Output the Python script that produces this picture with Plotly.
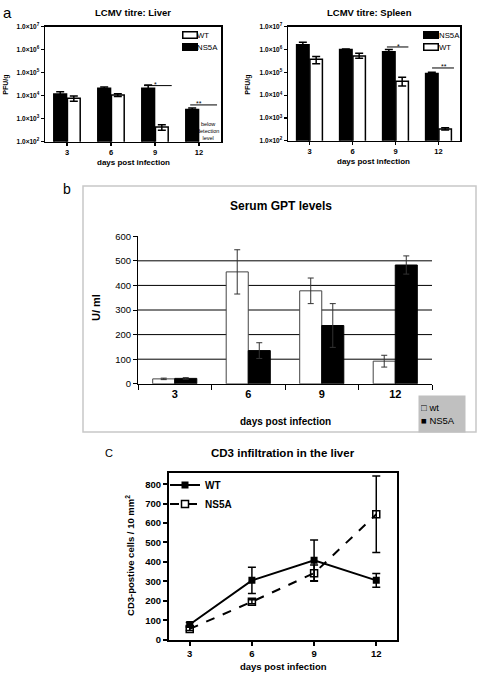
import plotly.graph_objects as go

W, H = 477, 681
def px(x): return x / W
def py(y): return 1 - y / H

FONT = "Liberation Sans, Arial, sans-serif"

# ---------------- data ----------------
days = ["3", "6", "9", "12"]
decades = [2, 3, 4, 5, 6, 7]
log_ticktext = ["1.0×10<sup>%d</sup>" % d for d in decades]

liver_ns5a = [1.2e4, 2.1e4, 2.1e4, 2.5e3]
liver_ns5a_err = [3.0e3, 3.0e3, 8.0e3, 4.0e2]
liver_wt = [7.7e3, 1.07e4, 440, None]
liver_wt_err_up = [2.1e3, 1.6e3, 110, None]
liver_wt_err_dn = [1.9e3, 1.4e3, 120, None]

spleen_ns5a = [1.6e6, 1.0e6, 8.0e5, 8.8e4]
spleen_ns5a_err = [5.0e5, 5.0e4, 2.0e5, 1.2e4]
spleen_wt = [3.7e5, 5.2e5, 4.1e4, 330]
spleen_wt_err_up = [1.2e5, 1.6e5, 2.0e4, 40]
spleen_wt_err_dn = [1.3e5, 1.1e5, 1.6e4, 30]

gpt_wt = [20, 455, 378, 92]
gpt_wt_err = [3, 90, 52, 24]
gpt_ns5a = [22, 135, 237, 483]
gpt_ns5a_err = [3, 32, 89, 37]
gpt_grid = [100, 200, 300, 400, 500]

cd3_days = [3, 6, 9, 12]
cd3_wt = [78, 305, 408, 305]
cd3_wt_err = [10, 68, 105, 35]
cd3_ns5a = [55, 195, 342, 645]
cd3_ns5a_err = [8, 10, 42, 197]

fig = go.Figure()

bar_line = dict(color="black", width=1.5)
eb = dict(type="data", color="black", thickness=1.5, width=4)

# ---------------- panel a: liver ----------------
fig.add_trace(go.Bar(x=days, y=liver_ns5a, name="NS5A", xaxis="x", yaxis="y",
                     width=0.29, offset=-0.3, showlegend=False,
                     marker=dict(color="black", line=bar_line),
                     error_y=dict(array=liver_ns5a_err, **eb)))
fig.add_trace(go.Bar(x=days, y=liver_wt, name="WT", xaxis="x", yaxis="y",
                     width=0.29, offset=0.01, showlegend=False,
                     marker=dict(color="white", line=bar_line),
                     error_y=dict(array=liver_wt_err_up, arrayminus=liver_wt_err_dn, **eb)))

# ---------------- panel a: spleen ----------------
fig.add_trace(go.Bar(x=days, y=spleen_ns5a, name="NS5A", xaxis="x2", yaxis="y2",
                     width=0.29, offset=-0.3, showlegend=False,
                     marker=dict(color="black", line=bar_line),
                     error_y=dict(array=spleen_ns5a_err, **eb)))
fig.add_trace(go.Bar(x=days, y=spleen_wt, name="WT", xaxis="x2", yaxis="y2",
                     width=0.29, offset=0.01, showlegend=False,
                     marker=dict(color="white", line=bar_line),
                     error_y=dict(array=spleen_wt_err_up, arrayminus=spleen_wt_err_dn, **eb)))

# ---------------- panel b: GPT ----------------
eb_b = dict(type="data", color="#333333", thickness=1, width=3)
fig.add_trace(go.Bar(x=days, y=gpt_wt, name="wt", xaxis="x3", yaxis="y3",
                     width=0.3, offset=-0.3, showlegend=False,
                     marker=dict(color="white", line=dict(color="#444444", width=1)),
                     error_y=dict(array=gpt_wt_err, **eb_b)))
fig.add_trace(go.Bar(x=days, y=gpt_ns5a, name="NS5A", xaxis="x3", yaxis="y3",
                     width=0.3, offset=0.0, showlegend=False,
                     marker=dict(color="black", line=dict(color="black", width=1)),
                     error_y=dict(array=gpt_ns5a_err, **eb_b)))

# ---------------- panel c: CD3 ----------------
fig.add_trace(go.Scatter(x=cd3_days, y=cd3_wt, name="WT", xaxis="x4", yaxis="y4",
                         mode="lines+markers",
                         line=dict(color="black", width=2),
                         marker=dict(symbol="square", size=7, color="black"),
                         error_y=dict(array=cd3_wt_err, type="data", color="black", thickness=1.5, width=4),
                         legend="legend3"))
fig.add_trace(go.Scatter(x=cd3_days, y=cd3_ns5a, name="NS5A", xaxis="x4", yaxis="y4",
                         mode="lines+markers",
                         line=dict(color="black", width=2, dash="dash"),
                         marker=dict(symbol="square-open", size=7, color="black", line=dict(width=1.5)),
                         error_y=dict(array=cd3_ns5a_err, type="data", color="black", thickness=1.5, width=4),
                         legend="legend3"))

# ---------------- axes ----------------
def xa_cat(domain, anchor):
    return dict(domain=domain, anchor=anchor, type="category", range=[-0.5, 3.5],
                showline=True, linecolor="black", linewidth=1.5, mirror=True,
                ticks="outside", ticklen=3, tickcolor="black", tickwidth=1.2,
                tickfont=dict(family=FONT, size=7.5, color="black", weight="bold"),
                showgrid=False, zeroline=False, fixedrange=True)

def ya_log(domain, anchor):
    return dict(domain=domain, anchor=anchor, type="log", range=[2, 7],
                tickvals=[10 ** d for d in decades], ticktext=log_ticktext,
                showline=True, linecolor="black", linewidth=1.5, mirror=True,
                ticks="outside", ticklen=3, tickcolor="black", tickwidth=1.2,
                tickfont=dict(family=FONT, size=6.5, color="black", weight="bold"),
                showgrid=False, zeroline=False)

layout = dict(
    width=W, height=H, margin=dict(l=0, r=0, t=0, b=0),
    paper_bgcolor="white", plot_bgcolor="white",
    barmode="overlay", showlegend=True,
    font=dict(family=FONT, color="black"),
    xaxis=xa_cat([px(45), px(221)], "y"),
    yaxis=ya_log([py(138), py(21)], "x"),
    xaxis2=xa_cat([px(288), px(460)], "y2"),
    yaxis2=ya_log([py(137), py(21)], "x2"),
    xaxis3=dict(domain=[px(138), px(432)], anchor="y3", type="category", range=[-0.5, 3.5],
                showline=True, linecolor="black", linewidth=1,
                ticks="outside", tickson="boundaries", ticklen=5, tickcolor="black",
                tickfont=dict(family=FONT, size=11, color="black", weight="bold"),
                showgrid=False, zeroline=False),
    yaxis3=dict(domain=[py(384), py(234)], anchor="x3", range=[0, 600], dtick=100,
                showline=True, linecolor="black", linewidth=1,
                ticks="outside", ticklen=4, tickcolor="black",
                tickfont=dict(family=FONT, size=9.5, color="black"),
                showgrid=False, zeroline=False),
    xaxis4=dict(domain=[px(169), px(397)], anchor="y4", range=[2, 13], tickvals=cd3_days,
                showline=True, linecolor="black", linewidth=2, mirror=True,
                ticks="outside", ticklen=4, tickwidth=2, tickcolor="black",
                tickfont=dict(family=FONT, size=9.5, color="black", weight="bold"),
                showgrid=False, zeroline=False),
    yaxis4=dict(domain=[py(644), py(475)], anchor="x4", range=[0, 856], dtick=100,
                showline=True, linecolor="black", linewidth=2, mirror=True,
                ticks="outside", ticklen=4, tickwidth=2, tickcolor="black",
                tickfont=dict(family=FONT, size=9.5, color="black", weight="bold"),
                showgrid=False, zeroline=False),
    legend3=dict(x=px(165), y=py(472), xanchor="left", yanchor="top",
                 bgcolor="rgba(0,0,0,0)", font=dict(family=FONT, size=10, color="black", weight="bold"),
                 traceorder="normal", tracegroupgap=0, itemwidth=30),
)

shapes = []
# panel b frame
shapes.append(dict(type="rect", xref="paper", yref="paper", x0=px(83), x1=px(476), y0=py(433), y1=py(183),
                   line=dict(color="#c8c8c8", width=1.5), fillcolor="rgba(0,0,0,0)", layer="below"))
# panel b gridlines
for g in gpt_grid:
    shapes.append(dict(type="line", xref="x3 domain", yref="y3", x0=0, x1=1, y0=g, y1=g,
                       line=dict(color="black", width=1), layer="below"))
# significance lines (exponent of 10 for the log axes)
sig = [("x", "y", 1.75, 2.38, 4.44), ("x", "y", 2.80, 3.41, 3.60),
       ("x2", "y2", 1.80, 2.30, 6.11), ("x2", "y2", 2.85, 3.36, 5.19)]
for xr, yr, a0, a1, yv in sig:
    shapes.append(dict(type="line", xref=xr, yref=yr, x0=a0, x1=a1, y0=10 ** yv, y1=10 ** yv,
                       line=dict(color="black", width=1)))
layout["shapes"] = shapes

def ann(text, x, y, size, bold=False, xanchor="center", yanchor="middle", angle=0, xref="paper", yref="paper", **kw):
    d = dict(text=text, x=x, y=y, xref=xref, yref=yref, showarrow=False,
             xanchor=xanchor, yanchor=yanchor, textangle=angle,
             font=dict(family=FONT, size=size, color="black", weight="bold" if bold else "normal"))
    d.update(kw)
    return d

def swatch(x0, yc, fill):
    return dict(text=" ", x=px(x0), y=py(yc), xref="paper", yref="paper", showarrow=False,
                xanchor="left", yanchor="middle", width=13, height=5, borderpad=0,
                bgcolor=fill, bordercolor="black", borderwidth=1.5,
                font=dict(family=FONT, size=4))

# legend entries for panel a (name, fill)
liver_legend = [("WT", "white"), ("NS5A", "black")]
spleen_legend = [("NS5A", "black"), ("WT", "white")]

annotations = []
for i, (name, fill) in enumerate(liver_legend):
    yc = 29.5 + 12.5 * i
    annotations.append(swatch(181.5, yc, fill))
    annotations.append(ann(name, px(196), py(yc), 7.8, xanchor="left", borderpad=0))
for i, (name, fill) in enumerate(spleen_legend):
    yc = 29.5 + 12.5 * i
    annotations.append(swatch(423, yc, fill))
    annotations.append(ann(name, px(437.5), py(yc), 7.8, xanchor="left", borderpad=0))

annotations += [
    ann("a", px(1), py(7), 15, xanchor="left"),
    ann("LCMV titre: Liver", px(133), py(7), 9.5, bold=True),
    ann("LCMV titre: Spleen", px(369), py(7), 9.5, bold=True),
    ann("PFU/g", px(6), py(80), 7, bold=True, angle=-90),
    ann("PFU/g", px(248), py(80), 7, bold=True, angle=-90),
    ann("days post infection", px(133), py(159), 8, bold=True),
    ann("days post infection", px(373), py(158), 8, bold=True),
    ann("below<br>detection<br>level", 3.2, 2.45, 5.5, xref="x", yref="y"),
    ann("*", 2.0, 4.5, 7, xref="x", yref="y"),
    ann("**", 3.0, 3.66, 7, xref="x", yref="y"),
    ann("*", 2.08, 6.15, 7, xref="x2", yref="y2"),
    ann("**", 3.12, 5.25, 7, xref="x2", yref="y2"),
    ann("b", px(67), py(186), 14),
    ann("Serum GPT levels", px(281), py(203), 12, bold=True),
    ann("U/ ml", px(96), py(307), 11, bold=True, angle=-90),
    ann("days post infection", px(285), py(422), 10, bold=True),
    ann("□ wt<br>■ NS5A", px(418), py(395), 9.5, xanchor="left", yanchor="top",
        align="left", bgcolor="#c0c0c0", width=42, height=32, borderpad=2),
    ann("C", px(109), py(454), 11),
    ann("CD3 infiltration in the liver", px(283), py(454), 11.5, bold=True),
    ann("CD3-postive cells / 10 mm<sup>2</sup>", px(130), py(559), 9.5, bold=True, angle=-90),
    ann("days post infection", px(283), py(671), 9.5, bold=True),
]
layout["annotations"] = annotations

fig.update_layout(**layout)
fig.write_html("out.html",
               config={"displayModeBar": False, "staticPlot": True},
               post_script="document.body.style.margin='0';document.body.style.overflow='hidden';")
